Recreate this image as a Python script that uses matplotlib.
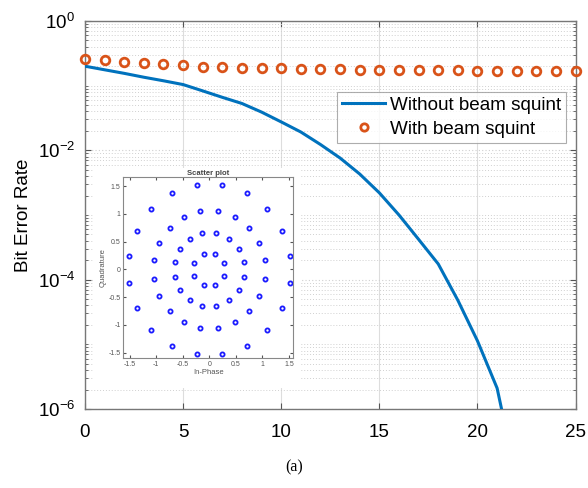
import matplotlib
matplotlib.use("Agg")
import matplotlib.pyplot as plt
import numpy as np
from matplotlib.ticker import LogLocator, NullFormatter, FixedLocator
from matplotlib.patches import Rectangle

plt.rcParams['font.family'] = ['Liberation Sans', 'DejaVu Sans']
plt.rcParams['mathtext.fontset'] = 'custom'
plt.rcParams['mathtext.rm'] = 'Liberation Sans'
plt.rcParams['mathtext.it'] = 'Liberation Sans:italic'
plt.rcParams['mathtext.bf'] = 'Liberation Sans:bold'

# ---- data ----
snr_blue = [0, 1, 2, 3, 4, 5, 6, 7, 8, 9, 10, 11, 12, 13, 14, 15, 16, 17, 18, 19, 20, 21, 22]
ber_without = [0.200, 0.176, 0.155, 0.135, 0.119, 0.104, 0.083, 0.066, 0.053, 0.039,
               0.0275, 0.0192, 0.0123, 0.0076, 0.0043, 0.0022, 0.0010, 4.2e-4, 1.75e-4,
               4.8e-5, 1.13e-5, 2.1e-6, 8e-8]
snr_orange = list(range(0, 26))
ber_with = [0.255, 0.246, 0.231, 0.226, 0.213, 0.206, 0.196, 0.194, 0.189, 0.187, 0.185,
            0.182, 0.180, 0.178, 0.176, 0.175, 0.174, 0.173, 0.172, 0.172, 0.171, 0.171,
            0.170, 0.170, 0.170, 0.170]

# constellation (In-phase, Quadrature)
const_i = [0.28, 0.11, 0.65, 0.55, 0.37, 0.13, 1.05, 0.94, 0.75, 0.48, 0.17, 1.52, 1.37, 1.09, 0.70, 0.24,
           -0.28, -0.11, -0.65, -0.55, -0.37, -0.13, -1.05, -0.94, -0.75, -0.48, -0.17, -1.52, -1.37, -1.09, -0.70, -0.24,
           -0.28, -0.11, -0.65, -0.55, -0.37, -0.13, -1.05, -0.94, -0.75, -0.48, -0.17, -1.52, -1.37, -1.09, -0.70, -0.24,
           0.28, 0.11, 0.65, 0.55, 0.37, 0.13, 1.05, 0.94, 0.75, 0.48, 0.17, 1.52, 1.37, 1.09, 0.70, 0.24]
const_q = [0.11, 0.28, 0.13, 0.37, 0.55, 0.65, 0.17, 0.48, 0.75, 0.94, 1.05, 0.24, 0.70, 1.09, 1.37, 1.52,
           0.11, 0.28, 0.13, 0.37, 0.55, 0.65, 0.17, 0.48, 0.75, 0.94, 1.05, 0.24, 0.70, 1.09, 1.37, 1.52,
           -0.11, -0.28, -0.13, -0.37, -0.55, -0.65, -0.17, -0.48, -0.75, -0.94, -1.05, -0.24, -0.70, -1.09, -1.37, -1.52,
           -0.11, -0.28, -0.13, -0.37, -0.55, -0.65, -0.17, -0.48, -0.75, -0.94, -1.05, -0.24, -0.70, -1.09, -1.37, -1.52]

xticks_main = [0, 5, 10, 15, 20, 25]
yticks_main = [1e0, 1e-2, 1e-4, 1e-6]
ytick_labels = ['$\\mathregular{10^{0}}$', '$\\mathregular{10^{-2}}$',
                '$\\mathregular{10^{-4}}$', '$\\mathregular{10^{-6}}$']
inset_ticks = [-1.5, -1, -0.5, 0, 0.5, 1, 1.5]
inset_ticklabels = ['-1.5', '-1', '-0.5', '0', '0.5', '1', '1.5']

W, H = 588, 488
fig = plt.figure(figsize=(W / 100, H / 100), dpi=100)

def fx(px):
    return px / W

def fy(py):
    return 1 - py / H

ax_l, ax_r, ax_t, ax_b = 85, 575.6, 21, 409
ax = fig.add_axes([fx(ax_l), fy(ax_b), fx(ax_r - ax_l), fy(ax_t) - fy(ax_b)])
ax.set_yscale('log')
ax.set_xlim(0, 25)
ax.set_ylim(1e-6, 1e0)

ax.plot(snr_blue, ber_without, color='#0072BD', lw=2.2, label='Without beam squint', zorder=3)
ax.plot(snr_orange, ber_with, linestyle='none', marker='o', ms=6.2, mfc='none', mec='#D95319',
        mew=2.0, label='With beam squint', zorder=3, clip_on=False)

ax.set_xticks(xticks_main)
ax.set_xticklabels([str(v) for v in xticks_main])
ax.yaxis.set_major_locator(FixedLocator(yticks_main))
ax.set_yticklabels(ytick_labels)
ax.yaxis.set_minor_locator(LogLocator(base=10, subs=np.arange(1, 10), numticks=50))
ax.yaxis.set_minor_formatter(NullFormatter())
ax.tick_params(axis='both', which='major', direction='in', labelsize=13.5, length=4,
               top=True, right=True, color='#555555')
ax.tick_params(axis='x', which='major', pad=11)
ax.tick_params(axis='y', which='major', pad=7)
ax.tick_params(axis='y', which='minor', direction='in', length=2, right=True, color='#555555')
ax.grid(True, which='major', axis='x', color='#dddddd', lw=0.8, linestyle='-')
ax.grid(True, which='major', axis='y', color='#d0d0d0', lw=0.8, linestyle=(0, (1, 2)))
ax.grid(True, which='minor', axis='y', color='#d0d0d0', lw=0.7, linestyle=(0, (1, 2)))
for s in ax.spines.values():
    s.set_color('#777777')
    s.set_linewidth(1.0)
ax.set_ylabel('Bit Error Rate', fontsize=13.5, labelpad=4)

leg = ax.legend(loc='upper right', bbox_to_anchor=((566 - ax_l) / (ax_r - ax_l), (ax_b - 92) / (ax_b - ax_t)),
                fontsize=13.6, frameon=True, fancybox=False, handlelength=2.3, borderpad=0.25,
                labelspacing=0.35, handletextpad=0.25, borderaxespad=0, markerscale=0.85)
leg.get_frame().set_edgecolor('#999999')
leg.get_frame().set_linewidth(0.8)

# white background of inset figure
fig.patches.append(Rectangle((fx(93), fy(388)), fx(300 - 93), fy(168) - fy(388),
                             transform=fig.transFigure, facecolor='white', edgecolor='none', zorder=5))

in_l, in_r, in_t, in_b = 123.3, 293.3, 177.3, 358.3
ins = fig.add_axes([fx(in_l), fy(in_b), fx(in_r - in_l), fy(in_t) - fy(in_b)], zorder=6)
ins.plot(const_i, const_q, linestyle='none', marker='o', ms=3.0, mfc='none', mec='#1a1aff', mew=1.3)
ins.set_xlim(-1.62, 1.58)
ins.set_ylim(-1.6, 1.66)
ins.set_xticks(inset_ticks)
ins.set_xticklabels(inset_ticklabels)
ins.set_yticks(inset_ticks)
ins.set_yticklabels(inset_ticklabels)
ins.tick_params(direction='in', labelsize=5, length=2, pad=2, colors='#555555', top=True, right=True)
for s in ins.spines.values():
    s.set_color('#888888')
    s.set_linewidth(0.8)
ins.set_title('Scatter plot', fontsize=5.5, fontweight='bold', pad=2, color='#444444')
ins.set_xlabel('In-Phase', fontsize=5.5, labelpad=1, color='#555555')
ins.set_ylabel('Quadrature', fontsize=5.5, labelpad=1, color='#555555')

fig.text(fx(294), fy(467), '(a)', fontsize=11.5, family=['Liberation Serif', 'DejaVu Serif'],
         ha='center', va='center')

fig.savefig('out.png', dpi=100)
